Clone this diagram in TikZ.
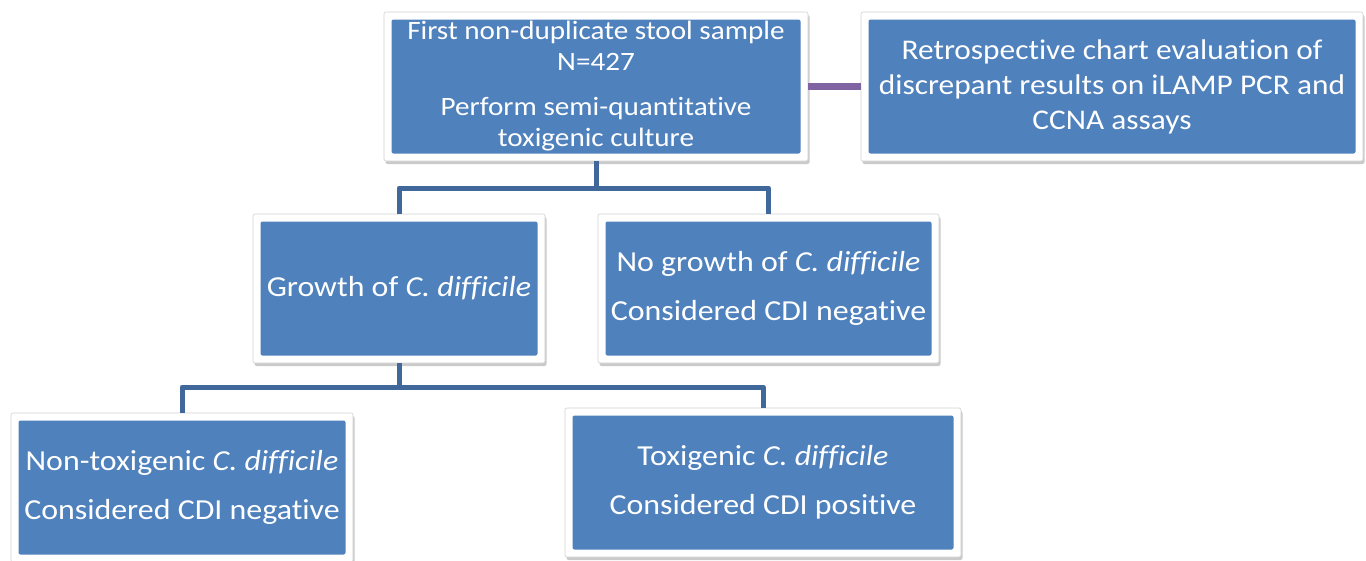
\documentclass[tikz,border=0pt]{standalone}
\usepackage{fontspec}
\setmainfont{Carlito}[FakeStretch=1.1,Ligatures=NoCommon]
\usetikzlibrary{shadows}
\definecolor{boxblue}{HTML}{4F81BD}
\definecolor{linkblue}{HTML}{41689A}
\definecolor{linkpurple}{HTML}{8064A2}
\tikzset{
  flowbox/.style={rectangle, fill=white, draw=black!18, line width=0.6pt,
    rounded corners=2pt, inner sep=0pt, outer sep=0pt, align=center,
    text=white, font=\fontsize{29}{35}\selectfont,
    drop shadow={shadow xshift=1.5pt, shadow yshift=-3pt, opacity=0.35, fill=black!60},
    path picture={\fill[boxblue] ([shift={(7.5pt,-7.5pt)}]path picture bounding box.north west)
      rectangle ([shift={(-7.5pt,7.5pt)}]path picture bounding box.south east);}},
  bluelink/.style={draw=linkblue, line width=5pt, line join=round},
  purplelink/.style={draw=linkpurple, line width=7pt}
}
\begin{document}
\begin{tikzpicture}[x=1pt,y=-1pt]
\useasboundingbox (0,0) rectangle (1366,560);
\node[flowbox, minimum width=424pt, minimum height=149pt, font=\fontsize{26.5}{31}\selectfont] (top) at (596,86.5)
  {First non-duplicate stool sample\\N=427\\[14pt]Perform semi-quantitative\\toxigenic culture};
\node[flowbox, minimum width=502pt, minimum height=149pt, font=\fontsize{28.5}{35}\selectfont] (retro) at (1112,86.5)
  {Retrospective chart evaluation of\\discrepant results on iLAMP PCR and\\CCNA assays};
\node[flowbox, minimum width=292pt, minimum height=149pt] (growth) at (399,288.5)
  {Growth of \textit{C. difficile}};
\node[flowbox, minimum width=341pt, minimum height=149pt] (nogrowth) at (768.5,288.5)
  {No growth of \textit{C. difficile}\\[14pt]Considered CDI negative};
\node[flowbox, minimum width=342pt, minimum height=149pt] (nontox) at (182,487.5)
  {Non-toxigenic \textit{C. difficile}\\[14pt]Considered CDI negative};
\node[flowbox, minimum width=396pt, minimum height=149pt] (tox) at (763,482.5)
  {Toxigenic \textit{C. difficile}\\[14pt]Considered CDI positive};
\coordinate (j1) at (596,188);
\coordinate (j2) at (399,387);
\draw[bluelink] (top.south) -- (j1);
\draw[bluelink] (growth.north) |- (j1) -| (nogrowth.north);
\draw[bluelink] (growth.south) -- (j2);
\draw[bluelink] (nontox.north) |- (j2) -| (tox.north);
\draw[purplelink] (top.east) -- (retro.west);
\end{tikzpicture}
\end{document}
